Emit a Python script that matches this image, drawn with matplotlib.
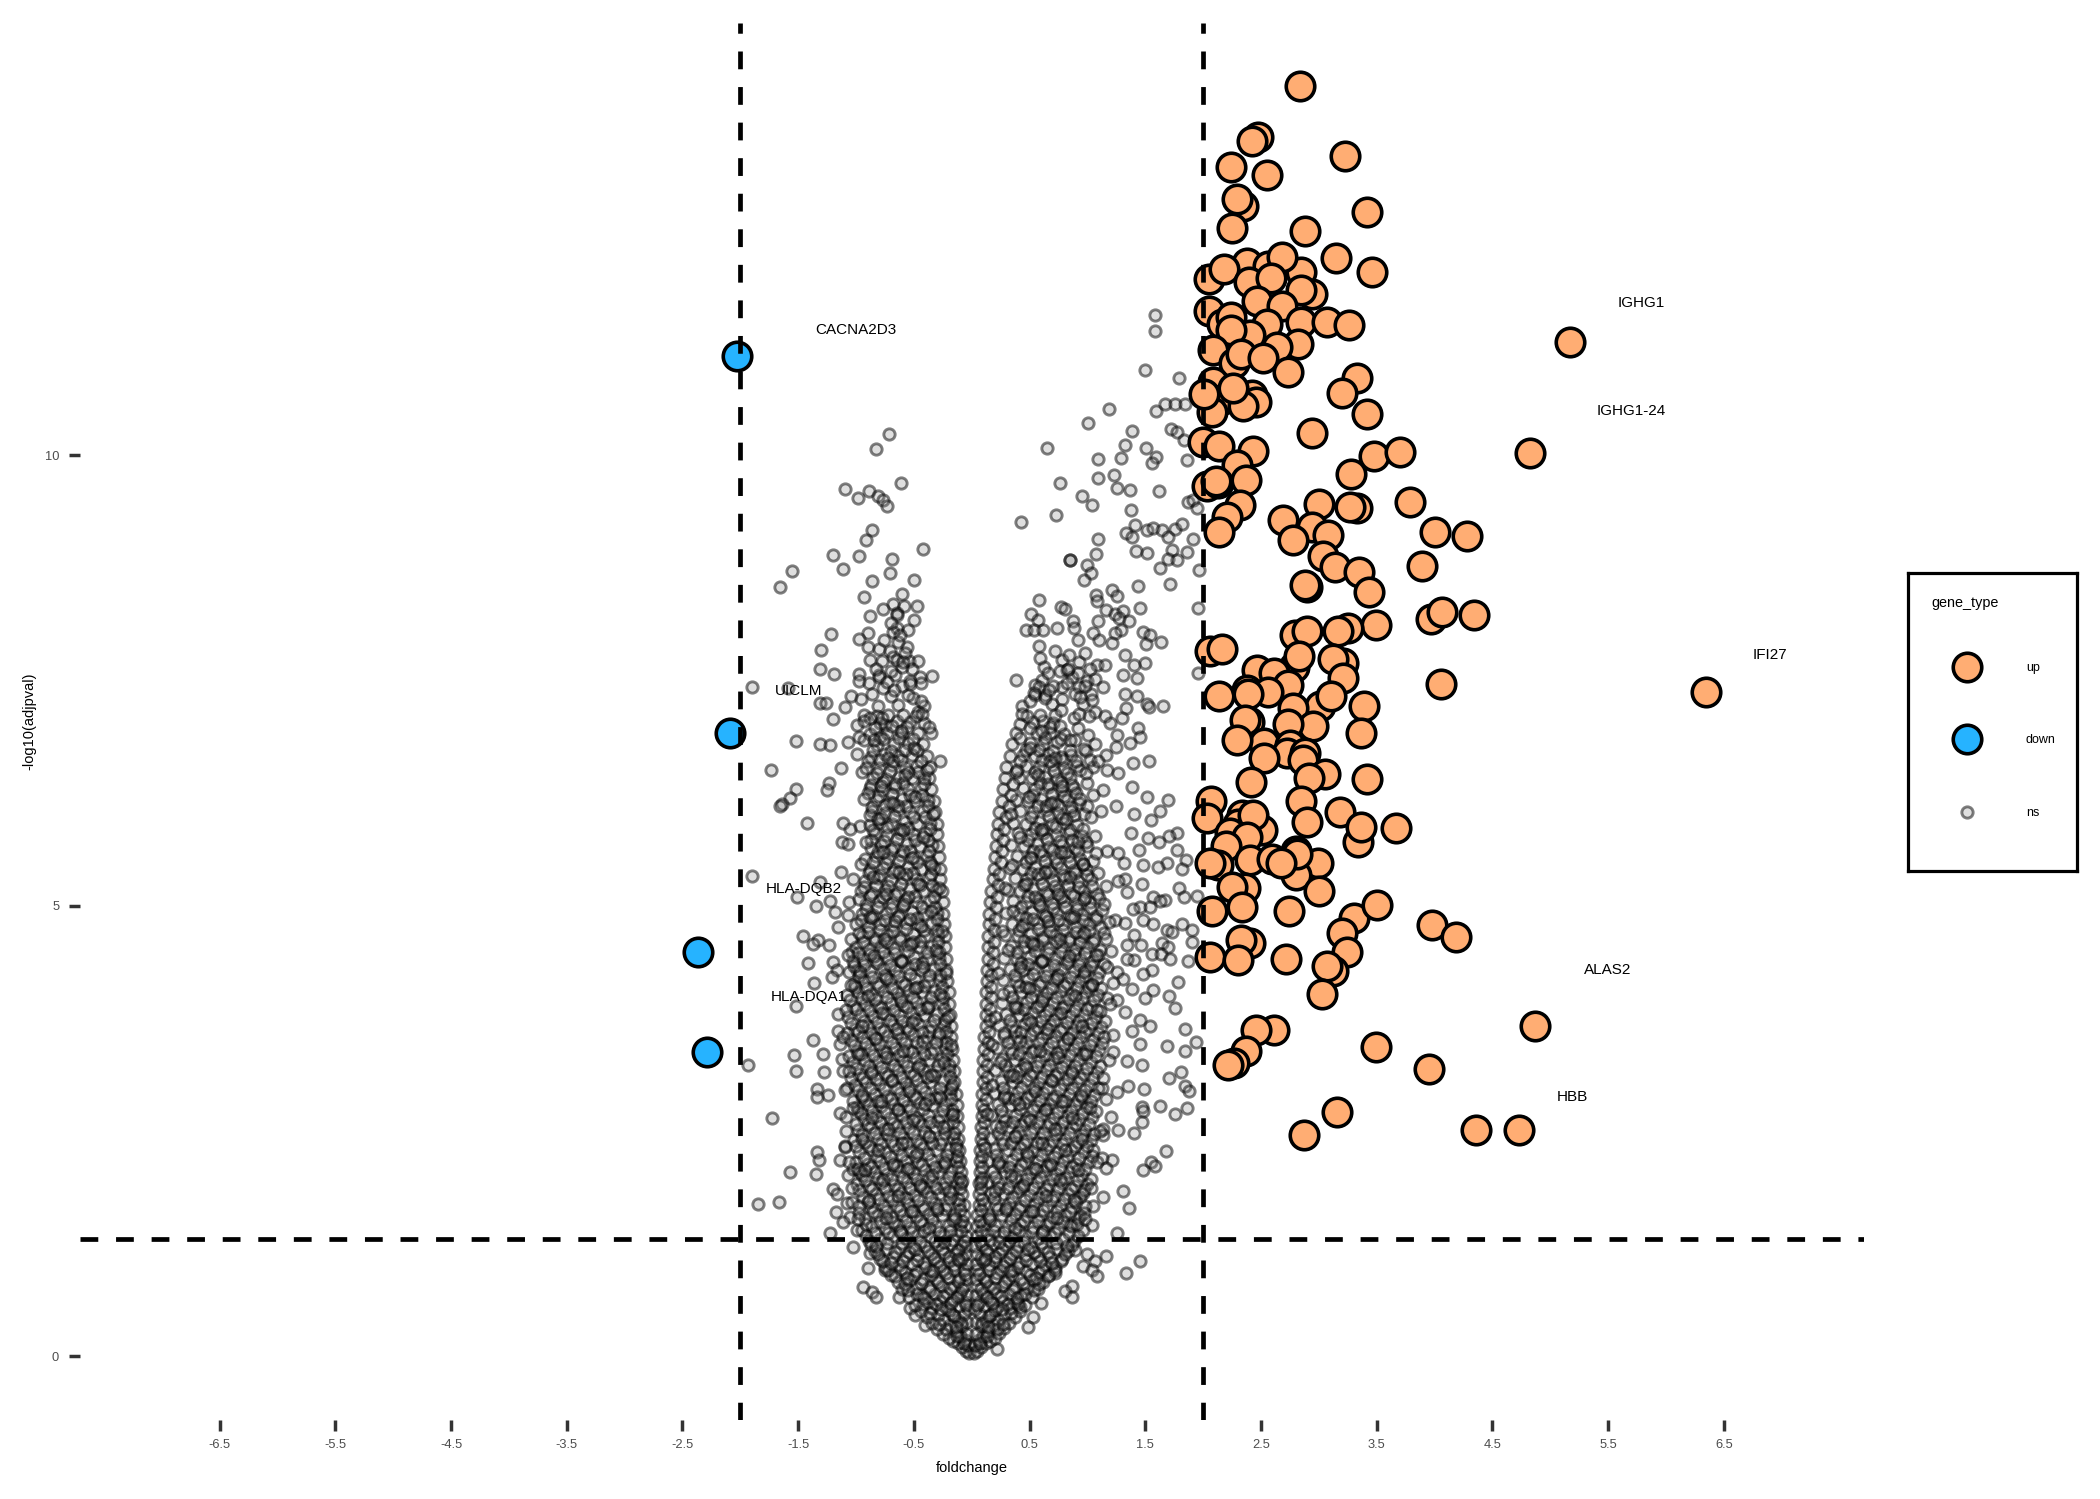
import numpy as np
import matplotlib
matplotlib.use("Agg")
import matplotlib.pyplot as plt

plt.rcParams['font.family'] = ['Liberation Sans', 'DejaVu Sans']

# === significant genes (foldchange, -log10(adjpval)) ===
up_top = [2.835,14.095, 2.477,13.526, 2.42,13.48, 3.224,13.32, 2.238,13.2, 2.555,13.11, 2.348,12.76, 2.296,12.84,
          3.417,12.7, 2.253,12.52, 2.884,12.49, 3.149,12.19, 2.376,12.13, 2.564,12.1, 2.846,12.03, 2.685,12.2,
          3.457,12.03, 2.054,11.95, 2.181,12.07, 2.397,11.92, 2.584,11.97, 2.944,11.79, 2.846,11.83, 2.463,11.71,
          2.685,11.65, 2.048,11.6, 2.16,11.45, 2.241,11.535, 2.555,11.45, 2.846,11.48, 3.068,11.48, 3.264,11.44,
          2.405,11.33, 2.241,11.39, 2.088,11.17, 2.823,11.23, 2.636,11.2, 2.267,11.02, 2.325,11.12, 2.52,11.08,
          5.171,11.26, 2.734,10.92, 3.327,10.85, 3.198,10.69, 2.088,10.81, 2.42,10.67, 2.457,10.59, 2.152,10.61,
          2.348,10.54, 2.08,10.48, 2.255,10.74, 2.008,10.68, 3.419,10.46]
up_mid = [2.941,10.24, 1.996,10.14, 2.14,10.1, 2.434,10.04, 3.477,9.99, 3.699,10.03, 4.828,10.02, 2.296,9.89,
          3.278,9.79, 2.031,9.66, 2.132,9.69, 2.109,9.71, 2.368,9.72, 2.319,9.45, 2.209,9.31, 2.14,9.15,
          3.002,9.46, 2.688,9.28, 3.788,9.48, 3.327,9.41, 3.27,9.42, 2.938,9.2, 2.774,9.06, 3.082,9.11,
          4.0,9.15, 4.284,9.1, 3.039,8.88, 3.14,8.76, 3.347,8.7, 3.889,8.77, 3.437,8.48, 2.901,8.54, 2.884,8.56,
          3.97,8.175, 4.062,8.26, 4.344,8.23, 3.491,8.11, 3.255,8.08, 3.169,8.05, 2.794,8.0, 2.895,8.05,
          2.06,7.82, 2.16,7.85, 3.212,7.69, 2.786,7.65, 2.832,7.77, 3.12,7.74, 2.463,7.61, 2.616,7.58, 3.212,7.53,
          2.737,7.45, 4.056,7.46, 6.348,7.37, 2.137,7.33, 2.377,7.39, 2.564,7.37, 2.391,7.35, 3.01,7.22, 3.105,7.32,
          2.78,7.19, 3.394,7.21, 2.397,7.04, 2.362,7.06, 2.947,6.99, 2.737,7.02, 3.362,6.91, 2.526,6.8, 2.29,6.84]
up_low = [2.751,6.78, 2.722,6.69, 2.881,6.69, 2.526,6.64, 2.861,6.62, 3.054,6.455, 2.918,6.42, 3.414,6.4, 2.411,6.37,
          2.843,6.16, 2.065,6.16, 3.183,6.04, 2.895,5.93, 2.037,5.97, 2.333,6.0, 2.506,5.84, 2.304,5.91, 2.434,6.0,
          3.336,5.71, 3.362,5.87, 3.667,5.86, 2.232,5.8, 2.377,5.76, 2.198,5.66, 2.132,5.45, 2.405,5.5, 2.996,5.47,
          2.803,5.34, 2.593,5.52, 2.803,5.6, 2.809,5.57, 2.67,5.47, 2.06,5.47, 2.362,5.19, 2.247,5.21, 3.002,5.16,
          2.08,4.94, 2.333,4.98, 2.74,4.94, 3.304,4.86, 3.506,5.01, 3.203,4.7, 3.981,4.78, 4.183,4.65, 2.405,4.58,
          2.325,4.62, 3.241,4.48, 2.06,4.43, 2.299,4.39, 2.714,4.41, 3.126,4.27, 3.068,4.33, 3.025,4.02,
          4.867,3.665, 2.61,3.62, 2.46,3.62, 2.367,3.38, 2.263,3.25, 2.216,3.23, 3.49,3.43, 3.953,3.19,
          3.154,2.71, 2.876,2.45, 4.358,2.51, 4.728,2.51]
down_genes = [-2.031,11.1, -2.09,6.92, -2.367,4.48, -2.286,3.37]

# scattered ns genes outside the dense wings
ns_right_upper = [1.588,11.55, 1.588,11.38, 1.498,10.94, 1.789,10.85, 1.184,10.51, 1.006,10.35, 1.59,10.49, 1.671,10.57,
    1.757,10.57, 1.844,10.57, 1.386,10.27, 1.72,10.29, 1.772,10.26, 1.835,10.17, .648,10.08, 1.325,10.11, 1.51,10.08,
    1.089,9.96, 1.294,9.97, 1.59,9.98, 1.556,9.91, 1.858,9.94, 1.227,9.78, 1.095,9.74, .766,9.69, 1.256,9.63, 1.371,9.61,
    1.62,9.6, .951,9.55, 1.043,9.45, 1.38,9.39, .732,9.33, .429,9.26, 1.873,9.48, 1.916,9.5, 1.945,9.41, 1.412,9.22,
    1.513,9.17, 1.57,9.19, 1.648,9.17, 1.757,9.18, 1.815,9.24, 1.334,9.13, 1.386,9.09, 1.697,9.09, 1.095,9.07, 1.916,9.07,
    1.075,8.9, 1.42,8.93, 1.513,8.91, 1.732,8.95, 1.864,8.92, .85,8.83, .85,8.83, .994,8.78, 1.7,8.85, 1.772,8.83,
    1.628,8.75, 1.034,8.69, .971,8.61, 1.438,8.55, 1.711,8.57, 1.968,8.72, 1.213,8.5, 1.259,8.44, 1.075,8.45, 1.08,8.38,
    .585,8.39, .769,8.31, .81,8.29, 1.161,8.28, 1.239,8.24, 1.311,8.27, 1.455,8.3, 1.96,8.3, .51,8.24, .576,8.17, .879,8.16,
    1.095,8.16, 1.276,8.19, 1.36,8.16, .467,8.06, .542,8.06, .62,8.06, .738,8.08, .882,8.08, 1.294,8.06, 1.052,8.02,
    1.239,8.03, 1.478,8.04, 1.541,8.0, 1.636,7.92, .922,7.95, 1.098,7.95, 1.213,7.91, 1.504,7.9, .58,7.88]
ns_right_mid = [1.325,7.78, .778,7.73, .928,7.7, 1.501,7.69, 1.406,7.67, 1.08,7.67, 1.152,7.67, .628,7.65, .821,7.61,
    1.311,7.56, 1.429,7.53, 1.96,7.58, .605,7.5, .547,7.45, .383,7.5, .864,7.54, .994,7.49, 1.066,7.51, .778,7.43, .925,7.43,
    1.138,7.42, 1.325,7.35, .547,7.34, .634,7.34, .893,7.35, 1.029,7.35, 1.426,7.33, .697,7.24, .432,7.21, .965,7.24,
    1.513,7.24, 1.657,7.21, 1.331,7.19, 1.533,7.2, 1.066,7.15, 1.153,7.1, 1.296,7.08, 1.196,7.03, 1.44,6.97, 1.259,6.89,
    1.456,6.87, 1.368,6.8, 1.245,6.76, 1.158,6.67, .985,6.72, 1.008,6.89, 1.397,6.58, 1.536,6.6, 1.167,6.5, 1.268,6.47,
    1.383,6.32, 1.513,6.2, 1.7,6.17, 1.052,6.54, 1.772,5.81, 1.708,5.77, 1.772,5.62, 1.852,5.5, 1.685,5.47, 1.614,5.43,
    1.815,5.41, 1.317,5.47, 1.484,5.45, 1.167,5.61, 1.268,5.58, 1.052,5.49, 1.325,5.29, 1.469,5.24, 1.268,5.27, 1.346,5.15,
    1.795,5.2, 1.835,5.09, 1.945,5.11, 1.57,5.1, 1.671,5.06, 1.628,5.05, 1.455,4.98, 1.541,4.98, 1.397,4.96, 1.239,4.84,
    1.325,4.81, 1.484,4.84, 1.57,4.79, 1.685,4.73, 1.815,4.79, 1.902,4.73, 1.729,4.71, 1.55,5.95, 1.63,6.05, 1.4,6.02,
    1.25,6.1, 1.52,5.75, 1.38,5.8, 1.62,5.7, 1.45,5.62]
ns_right_low = [1.406,4.67, 1.34,4.56, 1.461,4.56, 1.642,4.58, 1.902,4.6, 1.7,4.54, 1.556,4.46, 1.636,4.46, 1.714,4.41,
    1.403,4.4, 1.873,4.38, 1.34,4.41, 1.253,4.26, 1.556,4.28, 1.484,4.24, 1.311,4.18, 1.383,4.07, 1.78,4.15, 1.57,4.06,
    1.706,4.0, 1.498,3.97, 1.253,3.95, 1.757,3.86, 1.455,3.73, 1.325,3.82, 1.541,3.66, 1.844,3.63, 1.383,3.61, 1.939,3.49,
    1.685,3.44, 1.844,3.39, 1.455,3.46, 1.225,3.37, 1.34,3.27, 1.469,3.23, 1.809,3.15, 1.706,3.09, 1.844,3.0, 1.878,2.94,
    1.493,2.96, 1.354,3.0, 1.124,2.97, 1.253,2.93, 1.628,2.77, 1.469,2.76, 1.484,2.72, 1.858,2.75, 1.757,2.69, 1.475,2.6,
    1.201,2.65, 1.132,2.52, 1.268,2.51, 1.406,2.48, 1.138,2.45, 1.68,2.28, 1.21,2.18, 1.124,2.2, 1.55,2.15, 1.585,2.11,
    1.484,2.07, 1.158,2.09, 1.052,2.29, 1.305,1.83, 1.132,1.76, 1.363,1.64, 1.052,1.67, .965,1.81, 1.037,1.45, .936,1.55,
    1.253,1.37, .85,1.45, .893,1.18, .994,1.13, 1.158,1.11, 1.066,1.05, 1.455,1.06, .96,1.0, 1.037,.96, 1.08,.89, 1.334,.92,
    .72,.92, .864,.78, .807,.72, .865,.65, .599,.59, .533,.43, .49,.32, .216,.08, .418,.54]
ns_left_upper = [-.712,10.23, -.827,10.07, -.608,9.69, -1.092,9.62, -.887,9.6, -.979,9.52, -.807,9.54, -.763,9.5, -.729,9.43,
    -.864,9.17, -.916,9.06, -.423,8.96, -1.201,8.89, -.977,8.88, -.691,8.85, -1.112,8.74, -1.553,8.71, -.706,8.69, -.864,8.6,
    -.495,8.61, -1.657,8.53, -.605,8.46, -.933,8.42, -.683,8.35, -.475,8.32, -.585,8.32, -.769,8.29, -.642,8.25, -.642,8.22,
    -.876,8.21, -.495,8.17, -.648,8.08, -.677,8.04, -.547,8.06, -.893,8.02, -1.219,8.01, -.977,7.96, -.559,7.87, -.899,7.87,
    -1.302,7.84, -.798,7.85, -.706,7.83, -.683,7.76, -.879,7.72, -.778,7.71, -.648,7.72, -.539,7.71, -.461,7.71, -1.314,7.62,
    -1.187,7.57, -.346,7.55, -.971,7.57, -.798,7.56, -.798,7.54, -.662,7.56, -.446,7.54, -.971,7.49, -.884,7.47, -.533,7.49,
    -.438,7.47, -.769,7.41, -1.896,7.42, -1.585,7.41, -1.043,7.32, -.959,7.29, -.504,7.3, -1.311,7.25, -1.259,7.25, -1.098,7.2,
    -.634,7.23, -.812,7.21, -.412,7.21, -.93,7.12, -.821,7.1, -1.196,7.07, -.461,7.15, -.994,7.0, -.749,7.0, -.971,6.87,
    -.792,6.87, -1.518,6.83, -1.311,6.79, -1.224,6.78, -1.066,6.82, -.349,6.92, -.994,6.68, -.274,6.6, -1.129,6.53, -1.734,6.5,
    -.951,6.48, -1.23,6.36, -1.518,6.29, -1.247,6.28, -1.57,6.19, -1.642,6.13]
ns_left_low = [-1.657,6.11, -1.426,5.92, -1.109,5.92, -1.124,5.71, -.965,5.88, -1.051,5.85, -1.072,5.68, -1.901,5.33, -1.129,5.37,
    -1.023,5.29, -1.311,5.26, -1.512,5.09, -1.345,5.0, -1.224,5.05, -1.06,5.04, -1.181,4.93, -1.152,4.76, -1.066,4.9, -1.455,4.66,
    -1.325,4.62, -1.368,4.57, -1.23,4.56, -1.037,4.48, -1.417,4.36, -1.196,4.37, -1.167,4.29, -1.21,4.21, -1.363,4.14, -1.521,3.88,
    -1.152,3.8, -1.158,3.61, -1.368,3.51, -1.138,3.46, -1.533,3.34, -1.282,3.35, -1.93,3.23, -1.124,3.3, -1.521,3.16, -1.273,3.15,
    -1.109,3.16, -1.334,2.96, -1.239,2.9, -1.334,2.87, -1.08,2.97, -1.723,2.64, -1.138,2.7, -1.089,2.65, -.985,2.72, -1.095,2.33,
    -1.095,2.32, -1.34,2.26, -1.317,2.18, -1.141,2.18, -1.57,2.04, -1.348,2.02, -1.066,2.01, -1.023,2.08, -.965,2.04, -1.196,1.85,
    -1.161,1.8, -1.668,1.71, -1.85,1.69, -1.08,1.7, -1.037,1.71, -1.172,1.6, -1.051,1.54, -1.109,1.49, -1.224,1.36, -.994,1.4,
    -1.023,1.21, -.879,1.14, -.896,.98, -.749,.95, -.936,.77, -.864,.71, -.827,.66, -.628,.65, -.533,.53, -.49,.45, -.403,.34]

# dense wings of the volcano, estimated band by band
ns_core_left_a = [-.02,.03, -.05,.06, -.08,.1, -.03,.12, -.12,.14, -.06,.18, -.16,.17, -.1,.22, -.2,.2, -.04,.25, -.14,.28, -.25,.25,
    -.08,.33, -.19,.34, -.3,.3, -.04,.38, -.12,.4, -.24,.4, -.34,.37, -.07,.47, -.17,.47, -.29,.46, -.39,.43, -.03,.52, -.11,.55,
    -.22,.54, -.34,.53, -.44,.5, -.06,.6, -.16,.62, -.27,.61, -.38,.6, -.49,.57, -.04,.68, -.1,.7, -.21,.7, -.32,.69, -.43,.68,
    -.54,.65, -.07,.78, -.15,.78, -.26,.78, -.37,.77, -.48,.76, -.6,.74, -.05,.86, -.11,.87, -.2,.87, -.31,.86, -.42,.85, -.53,.84,
    -.64,.82, -.07,.95, -.15,.96, -.25,.96, -.36,.95, -.47,.94, -.58,.93, -.7,.9, -.04,1.02, -.1,1.05, -.2,1.05, -.3,1.04, -.41,1.03,
    -.52,1.02, -.63,1.01, -.75,.99, -.06,1.13, -.14,1.14, -.24,1.14, -.35,1.13, -.46,1.12, -.57,1.11, -.68,1.1, -.79,1.08, -.05,1.22,
    -.09,1.23, -.18,1.24, -.29,1.23, -.4,1.22, -.51,1.21, -.62,1.2, -.73,1.19, -.84,1.17]
ns_core_left_b = [-.05,1.33, -.13,1.34, -.24,1.33, -.35,1.32, -.46,1.34, -.57,1.31, -.68,1.33, -.79,1.3, -.89,1.28, -.06,1.44, -.1,1.46,
    -.2,1.45, -.31,1.44, -.42,1.46, -.53,1.43, -.64,1.45, -.75,1.42, -.86,1.44, -.95,1.4, -.07,1.56, -.15,1.57, -.26,1.56, -.37,1.58,
    -.48,1.55, -.59,1.57, -.7,1.54, -.81,1.56, -.92,1.53, -.07,1.68, -.11,1.69, -.21,1.68, -.32,1.7, -.43,1.67, -.54,1.69, -.65,1.66,
    -.76,1.68, -.87,1.65, -.97,1.67, -.08,1.8, -.17,1.81, -.28,1.8, -.39,1.82, -.5,1.79, -.61,1.81, -.72,1.78, -.83,1.8, -.94,1.77,
    -.09,1.92, -.13,1.93, -.23,1.92, -.34,1.94, -.45,1.91, -.56,1.93, -.67,1.9, -.78,1.92, -.89,1.89, -.99,1.91, -.09,2.04, -.18,2.05,
    -.29,2.04, -.4,2.06, -.51,2.03, -.62,2.05, -.73,2.02, -.84,2.04, -.95,2.01, -.1,2.16, -.14,2.17, -.24,2.16, -.35,2.18, -.46,2.15,
    -.57,2.17, -.68,2.14, -.79,2.16, -.9,2.13, -1.0,2.15, -.11,2.29, -.2,2.3, -.31,2.29, -.42,2.31, -.53,2.28, -.64,2.3, -.75,2.27,
    -.86,2.29, -.97,2.26, -.12,2.41, -.16,2.42, -.26,2.41, -.37,2.43, -.48,2.4, -.59,2.42, -.7,2.39, -.81,2.41, -.92,2.38, -1.02,2.4,
    -.12,2.54, -.21,2.55, -.32,2.54, -.43,2.56, -.54,2.53, -.65,2.55, -.76,2.52, -.87,2.54, -.98,2.51, -.13,2.66, -.17,2.67, -.27,2.66]
ns_core_left_c = [-.38,2.68, -.49,2.65, -.6,2.67, -.71,2.64, -.82,2.66, -.93,2.63, -.13,2.79, -.23,2.8, -.34,2.79, -.45,2.81, -.56,2.78,
    -.67,2.8, -.78,2.77, -.89,2.79, -.99,2.76, -.14,2.91, -.19,2.92, -.29,2.91, -.4,2.93, -.51,2.9, -.62,2.92, -.73,2.89, -.84,2.91,
    -.95,2.88, -.15,3.04, -.25,3.05, -.36,3.04, -.47,3.06, -.58,3.03, -.69,3.05, -.8,3.02, -.91,3.04, -1.01,3.01, -.15,3.16, -.2,3.17,
    -.31,3.16, -.42,3.18, -.53,3.15, -.64,3.17, -.75,3.14, -.86,3.16, -.97,3.13, -.16,3.29, -.26,3.3, -.37,3.29, -.48,3.31, -.59,3.28,
    -.7,3.3, -.81,3.27, -.92,3.29, -1.03,3.26, -.17,3.41, -.22,3.42, -.33,3.41, -.44,3.43, -.55,3.4, -.66,3.42, -.77,3.39, -.88,3.41,
    -.99,3.38, -.18,3.54, -.28,3.55, -.39,3.54, -.5,3.56, -.61,3.53, -.72,3.55, -.83,3.52, -.94,3.54, -1.04,3.51, -.18,3.66, -.24,3.67,
    -.35,3.66, -.46,3.68, -.57,3.65, -.68,3.67, -.79,3.64, -.9,3.66, -1.01,3.63, -.19,3.79, -.3,3.8, -.41,3.79, -.52,3.81, -.63,3.78,
    -.74,3.8, -.85,3.77, -.96,3.79, -1.07,3.76, -.2,3.91, -.26,3.92, -.37,3.91, -.48,3.93, -.59,3.9, -.7,3.92, -.81,3.89, -.92,3.91,
    -1.03,3.88, -.2,4.04, -.32,4.05, -.43,4.04, -.54,4.06, -.65,4.03, -.76,4.05, -.87,4.02, -.98,4.04, -1.08,4.01]
ns_core_left_d = [-.21,4.16, -.27,4.17, -.38,4.16, -.49,4.18, -.6,4.15, -.71,4.17, -.82,4.14, -.93,4.16, -1.02,4.13, -.22,4.29, -.33,4.3,
    -.44,4.29, -.55,4.31, -.66,4.28, -.77,4.3, -.88,4.27, -.99,4.29, -1.06,4.26, -.22,4.41, -.28,4.42, -.39,4.41, -.5,4.43, -.61,4.4,
    -.72,4.42, -.83,4.39, -.94,4.41, -1.03,4.38, -.23,4.54, -.34,4.55, -.45,4.54, -.56,4.56, -.67,4.53, -.78,4.55, -.89,4.52, -1.0,4.54,
    -.23,4.66, -.29,4.67, -.4,4.66, -.51,4.68, -.62,4.65, -.73,4.67, -.84,4.64, -.95,4.66, -1.04,4.63, -.24,4.79, -.35,4.8, -.46,4.79,
    -.57,4.81, -.68,4.78, -.79,4.8, -.9,4.77, -1.0,4.79, -.25,4.91, -.3,4.92, -.41,4.91, -.52,4.93, -.63,4.9, -.74,4.92, -.85,4.89,
    -.95,4.91, -.25,5.04, -.36,5.05, -.47,5.04, -.58,5.06, -.69,5.03, -.8,5.05, -.91,5.02, -.26,5.16, -.31,5.17, -.42,5.16, -.53,5.18,
    -.64,5.15, -.75,5.17, -.86,5.14, -.96,5.16, -.27,5.29, -.37,5.3, -.48,5.29, -.59,5.31, -.7,5.28, -.81,5.3, -.92,5.27, -.27,5.41,
    -.33,5.42, -.44,5.41, -.55,5.43, -.66,5.4, -.77,5.42, -.88,5.39, -.28,5.54, -.39,5.55, -.5,5.54, -.61,5.56, -.72,5.53, -.83,5.55,
    -.92,5.52, -.29,5.66, -.34,5.67, -.45,5.66, -.56,5.68, -.67,5.65, -.78,5.67, -.87,5.64]
ns_core_left_e = [-.3,5.79, -.4,5.8, -.51,5.79, -.62,5.81, -.73,5.78, -.84,5.8, -.3,5.91, -.36,5.92, -.47,5.91, -.58,5.93, -.69,5.9,
    -.8,5.92, -.88,5.89, -.32,6.04, -.42,6.05, -.53,6.04, -.64,6.06, -.75,6.03, -.86,6.05, -.33,6.16, -.38,6.17, -.49,6.16, -.6,6.18,
    -.71,6.15, -.82,6.17, -.35,6.29, -.44,6.3, -.55,6.29, -.66,6.31, -.77,6.28, -.88,6.3, -.37,6.41, -.41,6.42, -.52,6.41, -.63,6.43,
    -.74,6.4, -.85,6.42, -.36,6.54, -.47,6.55, -.58,6.54, -.69,6.56, -.8,6.53, -.39,6.66, -.52,6.67, -.64,6.66, -.75,6.68, -.87,6.65,
    -.42,6.79, -.55,6.8, -.67,6.79, -.82,6.78, -.46,6.91, -.6,6.92, -.73,6.91, -.88,6.9, -.41,7.03, -.53,7.04, -.65,7.05, -.79,7.03]
ns_fill_left_a = [-.07,.15, -.13,.22, -.22,.3, -.09,.37, -.28,.36, -.15,.44, -.36,.48, -.2,.51, -.05,.57, -.31,.58, -.42,.58, -.13,.66, -.25,.67,
    -.47,.69, -.36,.73, -.08,.74, -.19,.76, -.55,.73, -.29,.82, -.12,.83, -.44,.81, -.58,.8, -.22,.92, -.35,.9, -.06,.91, -.5,.9, -.66,.89,
    -.15,1.01, -.27,1.0, -.4,.99, -.61,.97, -.72,.96, -.08,1.09, -.2,1.1, -.33,1.09, -.47,1.07, -.59,1.06, -.77,1.05, -.12,1.18, -.26,1.19,
    -.38,1.17, -.54,1.16, -.66,1.15, -.81,1.13, -.07,1.28, -.16,1.29, -.32,1.28, -.45,1.27, -.6,1.26, -.73,1.25, -.87,1.23]
ns_fill_left_b = [-.09,1.39, -.19,1.39, -.28,1.38, -.41,1.39, -.52,1.38, -.62,1.39, -.72,1.37, -.84,1.36, -.08,1.5, -.16,1.51, -.34,1.51,
    -.45,1.5, -.57,1.5, -.68,1.49, -.79,1.49, -.91,1.47, -.1,1.62, -.23,1.63, -.3,1.62, -.41,1.63, -.51,1.61, -.62,1.62, -.74,1.61, -.85,1.6,
    -.97,1.59, -.12,1.74, -.19,1.75, -.35,1.76, -.46,1.73, -.57,1.75, -.69,1.73, -.8,1.74, -.9,1.71, -.1,1.86, -.24,1.87, -.31,1.86, -.42,1.87,
    -.53,1.86, -.64,1.85, -.75,1.86, -.86,1.85, -.97,1.84, -.11,1.98, -.2,1.99, -.37,1.99, -.48,1.97, -.59,1.99, -.7,1.96, -.81,1.98, -.92,1.95,
    -.12,2.1, -.25,2.11, -.32,2.1, -.43,2.12, -.54,2.09, -.65,2.11, -.76,2.09, -.87,2.1, -.98,2.08, -.13,2.22, -.21,2.23, -.38,2.24, -.49,2.22]
ns_fill_left_c = [-.6,2.23, -.71,2.21, -.82,2.22, -.93,2.2, -.14,2.35, -.27,2.35, -.34,2.36, -.45,2.35, -.56,2.36, -.67,2.34, -.78,2.35,
    -.89,2.33, -1.0,2.33, -.15,2.48, -.23,2.48, -.4,2.49, -.51,2.47, -.62,2.48, -.73,2.46, -.84,2.47, -.95,2.45, -.16,2.6, -.29,2.61, -.36,2.6,
    -.46,2.61, -.57,2.6, -.68,2.59, -.79,2.6, -.9,2.58, -1.0,2.58, -.17,2.73, -.25,2.73, -.42,2.74, -.53,2.73, -.64,2.74, -.75,2.71, -.86,2.72,
    -.96,2.7, -.18,2.85, -.31,2.86, -.37,2.85, -.48,2.86, -.59,2.84, -.7,2.85, -.81,2.83, -.92,2.84, -1.03,2.83, -.18,2.98, -.27,2.98, -.43,2.99,
    -.54,2.97, -.65,2.98, -.76,2.96, -.87,2.97, -.98,2.95, -.19,3.1, -.33,3.11, -.39,3.1, -.5,3.12, -.61,3.1, -.72,3.11, -.83,3.08, -.94,3.09,
    -1.04,3.09, -.2,3.23, -.29,3.23, -.45,3.24, -.56,3.22, -.67,3.23, -.78,3.21, -.89,3.22, -1.0,3.2]
ns_fill_left_d = [-.21,3.35, -.35,3.36, -.41,3.35, -.52,3.37, -.63,3.34, -.74,3.36, -.85,3.34, -.96,3.35, -1.06,3.33, -.22,3.48, -.31,3.48,
    -.47,3.49, -.58,3.47, -.69,3.48, -.8,3.46, -.91,3.47, -1.02,3.45, -.22,3.6, -.37,3.61, -.43,3.6, -.54,3.62, -.65,3.59, -.76,3.61, -.87,3.59,
    -.98,3.6, -1.08,3.58, -.23,3.73, -.33,3.73, -.49,3.74, -.6,3.72, -.71,3.73, -.82,3.71, -.93,3.72, -1.04,3.7, -.24,3.85, -.39,3.86, -.45,3.85,
    -.56,3.87, -.67,3.84, -.78,3.86, -.89,3.84, -1.0,3.85, -.25,3.98, -.35,3.98, -.51,3.99, -.62,3.97, -.73,3.98, -.84,3.96, -.95,3.97, -1.05,3.95,
    -.26,4.1, -.41,4.11, -.47,4.1, -.58,4.12, -.69,4.09, -.8,4.11, -.91,4.09, -1.01,4.1, -.27,4.23, -.37,4.23, -.53,4.24, -.64,4.22, -.75,4.23,
    -.86,4.21, -.97,4.22]
ns_fill_left_e = [-.27,4.35, -.43,4.36, -.49,4.35, -.6,4.37, -.71,4.34, -.82,4.36, -.93,4.34, -1.02,4.33, -.28,4.48, -.39,4.48, -.55,4.49, -.66,4.47,
    -.77,4.48, -.88,4.46, -.98,4.47, -.29,4.6, -.45,4.61, -.51,4.6, -.62,4.62, -.73,4.59, -.84,4.61, -.94,4.59, -.3,4.73, -.41,4.73, -.57,4.74,
    -.68,4.72, -.79,4.73, -.9,4.71, -.3,4.85, -.47,4.86, -.53,4.85, -.64,4.87, -.75,4.84, -.86,4.86, -.96,4.84, -.32,4.98, -.43,4.98, -.59,4.99,
    -.7,4.97, -.81,4.98, -.91,4.96, -.33,5.1, -.49,5.11, -.55,5.1, -.66,5.12, -.77,5.09, -.88,5.11, -.34,5.23, -.45,5.23, -.61,5.24, -.72,5.22,
    -.83,5.23, -.93,5.21, -.35,5.35, -.51,5.36, -.57,5.35, -.68,5.37, -.79,5.34, -.89,5.36, -.36,5.48, -.47,5.48, -.63,5.49, -.74,5.47, -.85,5.48,
    -.37,5.6, -.53,5.61, -.59,5.6, -.7,5.62, -.81,5.59, -.38,5.73, -.49,5.73, -.65,5.74, -.76,5.72, -.87,5.73, -.36,5.85, -.55,5.86, -.62,5.85,
    -.73,5.87, -.85,5.84]
ns_fill_left_f = [-.4,5.98, -.51,5.98, -.67,5.99, -.78,5.97, -.88,6.0, -.38,6.1, -.57,6.11, -.64,6.1, -.75,6.12, -.86,6.09, -.43,6.23, -.53,6.23,
    -.69,6.24, -.8,6.22, -.9,6.25, -.41,6.35, -.59,6.36, -.66,6.35, -.77,6.37, -.87,6.34, -.46,6.48, -.55,6.48, -.71,6.49, -.82,6.47, -.44,6.6,
    -.61,6.61, -.68,6.6, -.79,6.62, -.9,6.6, -.47,6.73, -.58,6.73, -.7,6.72, -.85,6.73, -.51,6.85, -.63,6.86, -.77,6.85, -.93,6.84, -.37,6.98,
    -.56,6.98, -.69,6.99, -.84,6.97, -.48,7.1, -.59,7.12, -.72,7.11, -.88,7.08, -.44,7.27, -.55,7.34, -.7,7.33, -.86,7.35, -.6,7.44, -.73,7.48,
    -.52,7.62, -.6,7.65, -.7,7.6, -.58,7.8, -.64,7.92, -.76,7.95, -.62,8.0, -.7,8.14]
# off-row genes that break up the wings, ragged outer edge included
ns_scatter_left = [-.137,.318, -.263,.527, -.412,.639, -.176,.593, -.558,.871, -.333,.946, -.694,1.037, -.116,1.073, -.487,1.188, -.823,1.219,
    -.239,1.261, -.608,1.362, -.916,1.327, -.372,1.418, -.147,1.532, -.741,1.528, -.528,1.611, -.983,1.516, -.296,1.647, -.886,1.733, -.639,1.774,
    -.197,1.829, -.447,1.892, -1.032,1.864, -.766,1.957, -.088,1.943, -.341,2.013, -.559,2.071, -.921,2.062, -.684,2.118, -1.061,2.151, -.228,2.141,
    -.476,2.254, -.807,2.287, -.133,2.306, -.604,2.361, -.951,2.412, -.371,2.437, -1.083,2.492, -.723,2.523, -.252,2.547, -.508,2.618, -.864,2.647,
    -.166,2.684, -.633,2.729, -1.024,2.751, -.408,2.793, -.781,2.832, -.278,2.873, -.944,2.902, -.543,2.941, -1.097,2.953, -.172,3.012, -.686,3.062,
    -.353,3.124, -.867,3.141, -1.063,3.168, -.468,3.213, -.243,3.262, -.743,3.316, -.986,3.348, -.594,3.387, -.176,3.452, -.418,3.493, -.832,3.529,
    -1.111,3.546, -.283,3.581, -.647,3.627, -.952,3.661, -.513,3.702, -.203,3.768, -.773,3.812, -1.083,3.838, -.377,3.873, -.611,3.938, -.893,3.991,
    -.27,4.022, -.493,4.087, -1.041,4.121, -.737,4.194, -.226,4.254, -.968,4.262, -.421,4.321, -.611,4.383, -.843,4.442, -1.071,4.451, -.311,4.507,
    -.527,4.572, -.761,4.627, -.97,4.694, -.258,4.722, -.438,4.774, -.662,4.832, -.883,4.871, -.353,4.938, -.583,5.017, -.974,5.071, -.742,5.128,
    -.287,5.191, -.468,5.237, -.853,5.312, -.632,5.377, -.348,5.452, -.961,5.463, -.513,5.522, -.769,5.597, -.916,5.703, -.421,5.762, -.596,5.838,
    -.812,5.957, -.337,6.021, -.682,6.137, -.493,6.206, -.933,6.183, -.783,6.324, -.576,6.452, -.388,6.509, -.914,6.527, -.723,6.638, -.502,6.743,
    -.847,6.842, -.611,6.938, -.776,7.08, -.428,7.13, -.93,7.05, -.535,7.46, -.672,7.39, -.83,7.63, -.59,7.7]
ns_scatter_right = [.137,.318, .263,.527, .392,.639, .176,.593, .558,.871, .333,.946, .694,1.037, .116,1.073, .487,1.188, .823,1.219, .239,1.261,
    .608,1.362, .916,1.327, .372,1.418, .147,1.532, .741,1.528, .528,1.611, .983,1.516, .296,1.647, .886,1.733, .639,1.774, .197,1.829, .447,1.892,
    1.032,1.864, .766,1.957, .083,1.943, .341,2.013, .559,2.071, .921,2.062, .684,2.118, 1.087,2.151, .228,2.141, .476,2.254, .807,2.287, .113,2.306,
    .604,2.361, .951,2.412, .371,2.437, 1.113,2.492, .723,2.523, .252,2.547, .508,2.618, .864,2.647, .136,2.684, .633,2.729, 1.024,2.751, .408,2.793,
    .781,2.832, .278,2.873, .944,2.902, .543,2.941, 1.157,2.853, .172,3.012, .686,3.062, .353,3.124, .867,3.141, 1.133,3.088, .468,3.213, .243,3.262,
    .743,3.316, .986,3.348, 1.186,3.286, .594,3.387, .176,3.452, .418,3.493, .832,3.529, 1.141,3.546, .283,3.581, .647,3.627, .952,3.661, 1.223,3.561,
    .513,3.702, .203,3.768, .773,3.812, 1.083,3.838, .377,3.873, .611,3.938, .893,3.991, 1.192,3.906, .27,4.022, .493,4.087, 1.041,4.121, .737,4.194,
    1.224,4.143, .226,4.254, .968,4.262, .421,4.321, 1.173,4.319, .611,4.383, .843,4.442, 1.071,4.451, .311,4.507, 1.208,4.492, .527,4.572, .761,4.627,
    .97,4.694, 1.163,4.633, .258,4.722, .438,4.774, .662,4.832, .883,4.871, 1.186,4.812, .353,4.938, .583,5.017, .974,5.071, 1.147,5.013, .742,5.128,
    .287,5.191, .468,5.237, 1.163,5.221, .853,5.312, .632,5.377, 1.094,5.357, .348,5.452, .961,5.463, .513,5.522, .769,5.597, 1.077,5.583, .916,5.703,
    .421,5.762, .596,5.838, 1.063,5.771, .812,5.957, .337,6.021, .682,6.137, 1.117,6.053, .493,6.206, .933,6.183, .783,6.324, 1.131,6.287, .576,6.452,
    .388,6.509, .987,6.467, .723,6.638, 1.088,6.602, .502,6.743, .847,6.842, 1.062,6.793, .611,6.938, .776,7.17, .437,7.13, .93,7.13, .535,7.36, .672,7.39,
    .83,7.63, 1.04,7.28, .59,7.75]
ns_core_right_a = [.02,.03, .05,.06, .08,.1, .03,.12, .12,.14, .06,.18, .16,.17, .1,.22, .2,.2, .04,.25, .14,.28, .24,.26, .08,.33, .19,.34,
    .28,.31, .04,.38, .12,.4, .23,.4, .32,.37, .07,.47, .17,.47, .28,.46, .37,.43, .03,.52, .11,.55, .22,.54, .33,.53, .42,.5, .06,.6,
    .16,.62, .27,.61, .38,.6, .46,.57, .04,.68, .1,.7, .21,.7, .32,.69, .43,.68, .52,.65, .05,.78, .15,.78, .26,.78, .37,.77, .48,.76,
    .57,.74, .04,.86, .11,.87, .2,.87, .31,.86, .42,.85, .53,.84, .62,.82, .05,.95, .15,.96, .25,.96, .36,.95, .47,.94, .58,.93, .67,.9,
    .04,1.02, .1,1.05, .2,1.05, .3,1.04, .41,1.03, .52,1.02, .63,1.01, .72,.99, .05,1.13, .14,1.14, .24,1.14, .35,1.13, .46,1.12, .57,1.11,
    .68,1.1, .78,1.08, .03,1.22, .09,1.23, .18,1.24, .29,1.23, .4,1.22, .51,1.21, .62,1.2, .73,1.19, .83,1.17]
ns_core_right_b = [.05,1.33, .13,1.34, .24,1.33, .35,1.32, .46,1.34, .57,1.31, .68,1.33, .79,1.3, .88,1.28, .05,1.44, .1,1.46, .2,1.45, .31,1.44,
    .42,1.46, .53,1.43, .64,1.45, .75,1.42, .86,1.44, .96,1.4, .05,1.56, .15,1.57, .26,1.56, .37,1.58, .48,1.55, .59,1.57, .7,1.54, .81,1.56,
    .92,1.53, .06,1.68, .11,1.69, .21,1.68, .32,1.7, .43,1.67, .54,1.69, .65,1.66, .76,1.68, .87,1.65, .98,1.67, .06,1.8, .17,1.81, .28,1.8,
    .39,1.82, .5,1.79, .61,1.81, .72,1.78, .83,1.8, .94,1.77, .06,1.92, .13,1.93, .23,1.92, .34,1.94, .45,1.91, .56,1.93, .67,1.9, .78,1.92,
    .89,1.89, 1.0,1.91, .07,2.04, .18,2.05, .29,2.04, .4,2.06, .51,2.03, .62,2.05, .73,2.02, .84,2.04, .95,2.01, .07,2.16, .14,2.17, .24,2.16,
    .35,2.18, .46,2.15, .57,2.17, .68,2.14, .79,2.16, .9,2.13, 1.01,2.15, .07,2.29, .2,2.3, .31,2.29, .42,2.31, .53,2.28, .64,2.3, .75,2.27,
    .86,2.29, .97,2.26, .08,2.41, .16,2.42, .26,2.41, .37,2.43, .48,2.4, .59,2.42, .7,2.39, .81,2.41, .92,2.38, 1.03,2.4, .08,2.54, .21,2.55,
    .32,2.54, .43,2.56, .54,2.53, .65,2.55, .76,2.52, .87,2.54, .98,2.51, .09,2.66, .17,2.67, .27,2.66, .38,2.68, .49,2.65, .6,2.67, .71,2.64]
ns_core_right_c = [.82,2.66, .93,2.63, 1.04,2.65, .09,2.79, .23,2.8, .34,2.79, .45,2.81, .56,2.78, .67,2.8, .78,2.77, .89,2.79, 1.0,2.76, .09,2.91,
    .19,2.92, .29,2.91, .4,2.93, .51,2.9, .62,2.92, .73,2.89, .84,2.91, .95,2.88, 1.06,2.9, .1,3.04, .25,3.05, .36,3.04, .47,3.06, .58,3.03,
    .69,3.05, .8,3.02, .91,3.04, 1.02,3.01, .1,3.16, .2,3.17, .31,3.16, .42,3.18, .53,3.15, .64,3.17, .75,3.14, .86,3.16, .97,3.13, 1.08,3.15,
    .1,3.29, .26,3.3, .37,3.29, .48,3.31, .59,3.28, .7,3.3, .81,3.27, .92,3.29, 1.03,3.26, .11,3.41, .22,3.42, .33,3.41, .44,3.43, .55,3.4,
    .66,3.42, .77,3.39, .88,3.41, .99,3.38, 1.1,3.4, .11,3.54, .28,3.55, .39,3.54, .5,3.56, .61,3.53, .72,3.55, .83,3.52, .94,3.54, 1.05,3.51,
    .12,3.66, .24,3.67, .35,3.66, .46,3.68, .57,3.65, .68,3.67, .79,3.64, .9,3.66, 1.01,3.63, 1.12,3.65, .12,3.79, .3,3.8, .41,3.79, .52,3.81,
    .63,3.78, .74,3.8, .85,3.77, .96,3.79, 1.07,3.76, .12,3.91, .26,3.92, .37,3.91, .48,3.93, .59,3.9, .7,3.92, .81,3.89, .92,3.91, 1.03,3.88,
    .12,4.04, .32,4.05, .43,4.04, .54,4.06, .65,4.03, .76,4.05, .87,4.02, .98,4.04, 1.09,4.01]
ns_core_right_d = [.13,4.16, .27,4.17, .38,4.16, .49,4.18, .6,4.15, .71,4.17, .82,4.14, .93,4.16, 1.04,4.13, .13,4.29, .33,4.3, .44,4.29, .55,4.31,
    .66,4.28, .77,4.3, .88,4.27, .99,4.29, 1.1,4.26, .14,4.41, .28,4.42, .39,4.41, .5,4.43, .61,4.4, .72,4.42, .83,4.39, .94,4.41, 1.05,4.38,
    .14,4.54, .34,4.55, .45,4.54, .56,4.56, .67,4.53, .78,4.55, .89,4.52, 1.0,4.54, 1.11,4.51, .14,4.66, .29,4.67, .4,4.66, .51,4.68, .62,4.65,
    .73,4.67, .84,4.64, .95,4.66, 1.06,4.63, .15,4.79, .35,4.8, .46,4.79, .57,4.81, .68,4.78, .79,4.8, .9,4.77, 1.01,4.79, 1.12,4.76, .15,4.91,
    .3,4.92, .41,4.91, .52,4.93, .63,4.9, .74,4.92, .85,4.89, .96,4.91, 1.07,4.88, .16,5.04, .36,5.05, .47,5.04, .58,5.06, .69,5.03, .8,5.05,
    .91,5.02, 1.02,5.04, .17,5.16, .31,5.17, .42,5.16, .53,5.18, .64,5.15, .75,5.17, .86,5.14, .97,5.16, 1.08,5.13, .18,5.29, .37,5.3, .48,5.29,
    .59,5.31, .7,5.28, .81,5.3, .92,5.27, 1.03,5.29, .19,5.41, .33,5.42, .44,5.41, .55,5.43, .66,5.4, .77,5.42, .88,5.39, .99,5.41, .2,5.54,
    .39,5.55, .5,5.54, .61,5.56, .72,5.53, .83,5.55, .94,5.52, .21,5.66, .34,5.67, .45,5.66, .56,5.68, .67,5.65, .78,5.67, .89,5.64, 1.0,5.66]
ns_core_right_e = [.22,5.79, .4,5.8, .51,5.79, .62,5.81, .73,5.78, .84,5.8, .95,5.77, .23,5.91, .36,5.92, .47,5.91, .58,5.93, .69,5.9, .8,5.92,
    .91,5.89, .24,6.04, .42,6.05, .53,6.04, .64,6.06, .75,6.03, .86,6.05, .97,6.02, .26,6.16, .38,6.17, .49,6.16, .6,6.18, .71,6.15, .82,6.17,
    .93,6.14, .27,6.29, .44,6.3, .55,6.29, .66,6.31, .77,6.28, .88,6.3, .29,6.41, .41,6.42, .52,6.41, .63,6.43, .74,6.4, .85,6.42, .3,6.54,
    .47,6.55, .58,6.54, .69,6.56, .8,6.53, .91,6.55, .33,6.66, .44,6.67, .55,6.66, .66,6.68, .77,6.65, .86,6.67, .35,6.79, .5,6.8, .62,6.79,
    .74,6.81, .38,6.91, .56,6.92, .68,6.91, .8,6.9, .42,7.02, .53,7.04, .62,7.05, .7,7.03]
ns_fill_right_a = [.07,.15, .13,.22, .22,.3, .09,.37, .27,.36, .15,.44, .34,.48, .2,.51, .05,.57, .31,.58, .4,.58, .13,.66, .25,.67, .46,.69, .36,.73,
    .08,.74, .19,.76, .54,.73, .29,.82, .12,.83, .44,.81, .58,.8, .22,.92, .35,.9, .06,.91, .5,.9, .66,.89, .15,1.01, .27,1.0, .4,.99, .61,.97,
    .72,.96, .08,1.09, .2,1.1, .33,1.09, .47,1.07, .59,1.06, .77,1.05, .12,1.18, .26,1.19, .38,1.17, .54,1.16, .66,1.15, .81,1.13, .07,1.28,
    .16,1.29, .32,1.28, .45,1.27, .6,1.26, .73,1.25, .87,1.23]
ns_fill_right_b = [.08,1.39, .19,1.39, .28,1.38, .41,1.39, .52,1.38, .62,1.39, .72,1.37, .84,1.36, .07,1.5, .16,1.51, .34,1.51, .45,1.5, .57,1.5,
    .68,1.49, .79,1.49, .91,1.47, .08,1.62, .23,1.63, .3,1.62, .41,1.63, .51,1.61, .62,1.62, .74,1.61, .85,1.6, .97,1.59, .09,1.74, .19,1.75,
    .35,1.76, .46,1.73, .57,1.75, .69,1.73, .8,1.74, .9,1.71, .08,1.86, .24,1.87, .31,1.86, .42,1.87, .53,1.86, .64,1.85, .75,1.86, .86,1.85,
    .97,1.84, .09,1.98, .2,1.99, .37,1.99, .48,1.97, .59,1.99, .7,1.96, .81,1.98, .92,1.95, 1.03,1.97, .09,2.1, .25,2.11, .32,2.1, .43,2.12,
    .54,2.09, .65,2.11, .76,2.09, .87,2.1, .98,2.08, .09,2.22, .21,2.23, .38,2.24, .49,2.22, .6,2.23, .71,2.21, .82,2.22, .93,2.2, 1.04,2.22]
ns_fill_right_c = [.1,2.35, .27,2.35, .34,2.36, .45,2.35, .56,2.36, .67,2.34, .78,2.35, .89,2.33, 1.0,2.33, .1,2.48, .23,2.48, .4,2.49, .51,2.47,
    .62,2.48, .73,2.46, .84,2.47, .95,2.45, 1.06,2.46, .11,2.6, .29,2.61, .36,2.6, .46,2.61, .57,2.6, .68,2.59, .79,2.6, .9,2.58, 1.01,2.58,
    .11,2.73, .25,2.73, .42,2.74, .53,2.73, .64,2.74, .75,2.71, .86,2.72, .96,2.7, 1.07,2.72, .12,2.85, .31,2.86, .37,2.85, .48,2.86, .59,2.84,
    .7,2.85, .81,2.83, .92,2.84, 1.03,2.83, .12,2.98, .27,2.98, .43,2.99, .54,2.97, .65,2.98, .76,2.96, .87,2.97, .98,2.95, 1.09,2.97, .13,3.1,
    .33,3.11, .39,3.1, .5,3.12, .61,3.1, .72,3.11, .83,3.08, .94,3.09, 1.05,3.09, .13,3.23, .29,3.23, .45,3.24, .56,3.22, .67,3.23, .78,3.21,
    .89,3.22, 1.0,3.2, 1.11,3.22]
ns_fill_right_d = [.14,3.35, .35,3.36, .41,3.35, .52,3.37, .63,3.34, .74,3.36, .85,3.34, .96,3.35, 1.07,3.33, .14,3.48, .31,3.48, .47,3.49, .58,3.47,
    .69,3.48, .8,3.46, .91,3.47, 1.02,3.45, 1.13,3.47, .15,3.6, .37,3.61, .43,3.6, .54,3.62, .65,3.59, .76,3.61, .87,3.59, .98,3.6, 1.09,3.58,
    .16,3.73, .33,3.73, .49,3.74, .6,3.72, .71,3.73, .82,3.71, .93,3.72, 1.04,3.7, 1.15,3.72, .16,3.85, .39,3.86, .45,3.85, .56,3.87, .67,3.84,
    .78,3.86, .89,3.84, 1.0,3.85, 1.11,3.83, .17,3.98, .35,3.98, .51,3.99, .62,3.97, .73,3.98, .84,3.96, .95,3.97, 1.06,3.95, 1.17,3.97, .17,4.1,
    .41,4.11, .47,4.1, .58,4.12, .69,4.09, .8,4.11, .91,4.09, 1.01,4.1, 1.12,4.08, .17,4.23, .37,4.23, .53,4.24, .64,4.22, .75,4.23, .86,4.21,
    .97,4.22, 1.08,4.2]
ns_fill_right_e = [.18,4.35, .43,4.36, .49,4.35, .6,4.37, .71,4.34, .82,4.36, .93,4.34, 1.03,4.33, 1.14,4.35, .18,4.48, .39,4.48, .55,4.49, .66,4.47,
    .77,4.48, .88,4.46, .98,4.47, 1.09,4.45, .19,4.6, .45,4.61, .51,4.6, .62,4.62, .73,4.59, .84,4.61, .94,4.59, 1.05,4.6, .19,4.73, .41,4.73,
    .57,4.74, .68,4.72, .79,4.73, .9,4.71, 1.01,4.72, 1.14,4.7, .2,4.85, .47,4.86, .53,4.85, .64,4.87, .75,4.84, .86,4.86, .96,4.84, 1.07,4.85,
    .21,4.98, .43,4.98, .59,4.99, .7,4.97, .81,4.98, .91,4.96, 1.02,4.97, 1.13,4.95, .22,5.1, .49,5.11, .55,5.1, .66,5.12, .77,5.09, .88,5.11,
    .98,5.09, 1.1,5.08, .23,5.23, .45,5.23, .61,5.24, .72,5.22, .83,5.23, .93,5.21, 1.04,5.22, .24,5.35, .51,5.36, .57,5.35, .68,5.37, .79,5.34,
    .89,5.36, 1.0,5.34, .25,5.48, .47,5.48, .63,5.49, .74,5.47, .85,5.48, .96,5.46, .26,5.6, .53,5.61, .59,5.6, .7,5.62, .81,5.59, .92,5.61,
    .27,5.73, .49,5.73, .65,5.74, .76,5.72, .87,5.73, .99,5.71, .28,5.85, .55,5.86, .62,5.85, .73,5.87, .85,5.84, .96,5.85]
ns_fill_right_f = [.3,5.98, .51,5.98, .67,5.99, .78,5.97, .88,6.0, 1.03,5.98, .32,6.1, .57,6.11, .64,6.1, .75,6.12, .86,6.09, 1.0,6.11, .34,6.23, .53,6.23,
    .69,6.24, .8,6.22, .9,6.25, 1.05,6.23, .36,6.35, .59,6.36, .66,6.35, .77,6.37, .87,6.34, 1.0,6.36, .38,6.48, .55,6.48, .71,6.49, .82,6.47, .94,6.5,
    .42,6.6, .61,6.61, .68,6.6, .79,6.62, .9,6.6, 1.02,6.62, .47,6.73, .58,6.73, .7,6.72, .85,6.73, .97,6.74, .42,6.86, .63,6.86, .77,6.85, .89,6.84,
    .5,6.97, .68,6.98, .76,6.99, .92,6.97, .48,7.1, .59,7.12, .72,7.11, .88,7.08, 1.01,7.1, .5,7.27, .63,7.3, .78,7.29, .94,7.31, .58,7.42, .7,7.44,
    .82,7.47, .98,7.44, .66,7.58, .76,7.6, .92,7.58, 1.02,7.62, .72,7.82, .84,7.78, .98,7.8]

gene_labels = ["CACNA2D3", "UICLM", "HLA-DQB2", "HLA-DQA1", "IGHG1", "IGHG1-24", "IFI27", "ALAS2", "HBB"]
label_x = [-1.0, -1.5, -1.45, -1.41, 5.79, 5.7, 6.9, 5.5, 5.19]
label_y = [11.39, 7.38, 5.18, 3.98, 11.69, 10.49, 7.78, 4.28, 2.87]

x_ticks = [-6.5, -5.5, -4.5, -3.5, -2.5, -1.5, -0.5, 0.5, 1.5, 2.5, 3.5, 4.5, 5.5, 6.5]
y_ticks = [0, 5, 10]
fc_cutoffs = [-2, 2]
pval_cutoff = 1.3


def pares(*listas):
    return np.array(sum(listas, [])).reshape(-1, 2)


UP_COLOR = "#ffad73"
DOWN_COLOR = "#26b3ff"
NS_FACE = (0.5, 0.5, 0.5, 0.25)
NS_EDGE = (0, 0, 0, 0.5)
DASH = (0, (3.765, 3.765))

fig = plt.figure(figsize=(21, 14.99), dpi=100)
ax = fig.add_axes([80 / 2100, 1 - 1420 / 1499, 1784 / 2100, 1397 / 1499])
ax.set_xlim(-7.707, 7.712)
ax.set_ylim(-0.71, 14.795)

ns = pares(ns_right_upper, ns_right_mid, ns_right_low, ns_left_upper, ns_left_low,
           ns_core_left_a, ns_core_left_b, ns_core_left_c, ns_core_left_d, ns_core_left_e,
           ns_fill_left_a, ns_fill_left_b, ns_fill_left_c, ns_fill_left_d, ns_fill_left_e, ns_fill_left_f,
           ns_core_right_a, ns_core_right_b, ns_core_right_c, ns_core_right_d, ns_core_right_e,
           ns_fill_right_a, ns_fill_right_b, ns_fill_right_c, ns_fill_right_d, ns_fill_right_e, ns_fill_right_f,
           ns_scatter_left, ns_scatter_right)
up = pares(up_top, up_mid, up_low)
down = pares(down_genes)

ax.scatter(ns[:, 0], ns[:, 1], s=66, facecolors=[NS_FACE], edgecolors=[NS_EDGE], linewidths=2.1, zorder=2)
ax.scatter(up[:, 0], up[:, 1], s=421, c=UP_COLOR, edgecolors="black", linewidths=2.6, zorder=3)
ax.scatter(down[:, 0], down[:, 1], s=421, c=DOWN_COLOR, edgecolors="black", linewidths=2.6, zorder=3)

for fc in fc_cutoffs:
    ax.axvline(fc, color="black", lw=3.4, ls=DASH, zorder=4)
ax.axhline(pval_cutoff, color="black", lw=3.4, ls=DASH, zorder=4)

for nombre, lx, ly in zip(gene_labels, label_x, label_y):
    ax.text(lx, ly, nombre, ha="center", va="center", fontsize=11, color="black", zorder=5)

for lado in ax.spines.values():
    lado.set_visible(False)
ax.set_xticks(x_ticks)
ax.set_xticklabels([str(t) for t in x_ticks])
ax.set_yticks(y_ticks)
ax.tick_params(axis="both", length=8, width=2.5, color="#333333", labelcolor="#4d4d4d", labelsize=9.3)
ax.tick_params(axis="x", pad=5.5)
ax.tick_params(axis="y", pad=7)
ax.set_xlabel("foldchange", fontsize=10.5)
ax.set_ylabel("-log10(adjpval)", fontsize=10.5)
ax.xaxis.set_label_coords(0.5, -0.0295)
ax.yaxis.set_label_coords(-0.0245, 0.5)

# legend box, local coords are the figure pixels
leg = fig.add_axes([1908 / 2100, 1 - 871 / 1499, 169 / 2100, 298 / 1499])
leg.set_xlim(1908, 2077)
leg.set_ylim(871, 573)
leg.set_xticks([])
leg.set_yticks([])
for lado in leg.spines.values():
    lado.set_linewidth(2.3)
leg.text(1931, 603, "gene_type", fontsize=10.4, va="center", ha="left")
leg.scatter([1967], [667], s=421, c=UP_COLOR, edgecolors="black", linewidths=2.6)
leg.scatter([1967], [739], s=421, c=DOWN_COLOR, edgecolors="black", linewidths=2.6)
leg.scatter([1967], [812], s=66, facecolors=[NS_FACE], edgecolors=[NS_EDGE], linewidths=2.1)
leg.text(2026, 668, "up", fontsize=9, va="center", ha="left")
leg.text(2026, 740, "down", fontsize=9, va="center", ha="left")
leg.text(2026, 813, "ns", fontsize=9, va="center", ha="left")

fig.savefig("out.png", dpi=100)
